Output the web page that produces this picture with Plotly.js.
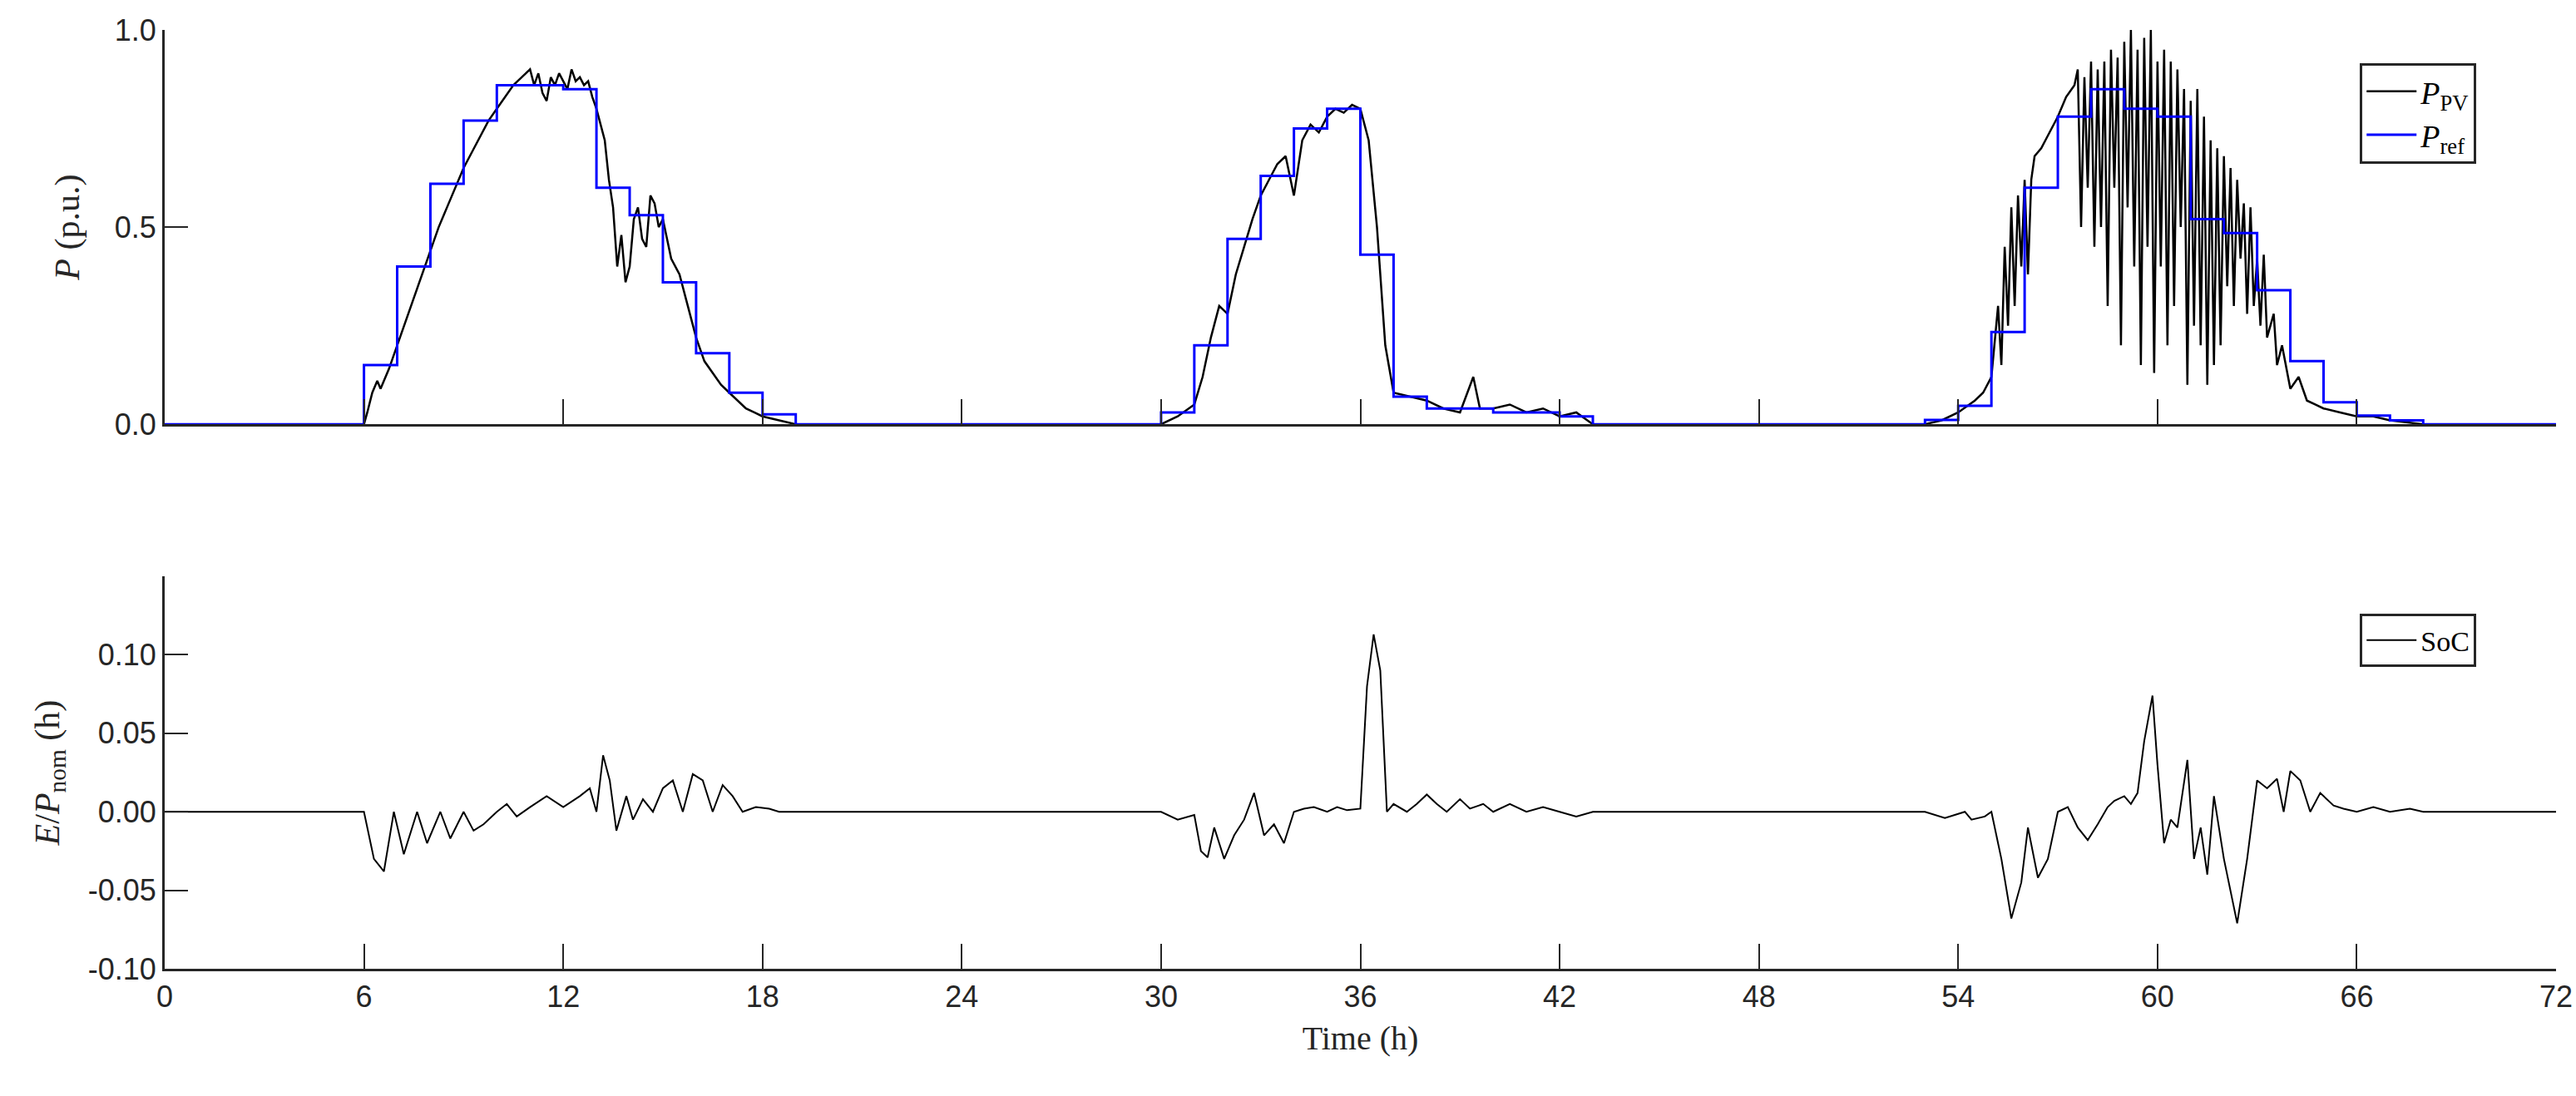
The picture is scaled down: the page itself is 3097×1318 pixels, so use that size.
<!DOCTYPE html>
<html><head><meta charset="utf-8">
<script src="https://cdn.plot.ly/plotly-3.0.1.min.js"></script>
<style>body{margin:0;background:#fff}</style></head>
<body><div id="g" style="width:3097px;height:1318px"></div>
<script>
const pvT = [0,6,6.1,6.25,6.4,6.5,6.6,6.75,7,7.25,7.5,7.75,8,8.25,8.5,8.75,9,9.25,9.5,9.75,10,10.25,10.5,10.75,11,11.125,11.25,11.375,11.5,11.625,11.75,11.875,12,12.125,12.25,12.375,12.5,12.625,12.75,12.875,13,13.125,13.25,13.375,13.5,13.625,13.75,13.875,14,14.125,14.25,14.375,14.5,14.625,14.75,14.875,15,15.25,15.5,15.75,16,16.25,16.5,16.75,17,17.25,17.5,17.75,18,18.5,19,
30,30.5,31,31.25,31.5,31.75,32,32.25,32.5,32.75,33,33.25,33.5,33.75,34,34.25,34.5,34.75,35,35.25,35.5,35.75,36,36.25,36.5,36.75,37,37.5,38,38.5,39,39.4,39.6,40,40.5,41,41.5,42,42.5,43,
53,53.5,54,54.5,54.75,55,55.2,55.3,55.4,55.5,55.6,55.7,55.8,55.9,56,56.1,56.2,56.3,56.5,56.75,57,57.25,57.5,57.6,57.7,57.8,57.9,58,58.1,58.2,58.3,58.4,58.5,58.6,58.7,58.8,58.9,59,59.1,59.2,59.3,59.4,59.5,59.6,59.7,59.8,59.9,60,60.1,60.2,60.3,60.4,60.5,60.6,60.7,60.8,60.9,61,61.1,61.2,61.3,61.4,61.5,61.6,61.7,61.8,61.9,62,62.1,62.2,62.3,62.4,62.5,62.6,62.7,62.8,62.9,63,63.1,63.2,63.3,63.5,63.6,63.75,64,64.25,64.5,64.75,65,65.5,66,66.5,67,68,72];
const pvV = [0,0,0.03,0.08,0.11,0.09,0.11,0.14,0.20,0.26,0.32,0.38,0.44,0.50,0.55,0.60,0.65,0.69,0.73,0.77,0.80,0.83,0.86,0.88,0.90,0.86,0.89,0.84,0.82,0.88,0.86,0.89,0.87,0.85,0.90,0.87,0.88,0.86,0.87,0.83,0.80,0.76,0.72,0.62,0.55,0.40,0.48,0.36,0.40,0.52,0.55,0.47,0.45,0.58,0.56,0.50,0.52,0.42,0.38,0.30,0.22,0.16,0.13,0.10,0.08,0.06,0.04,0.03,0.02,0.01,0,
0,0.02,0.05,0.12,0.22,0.30,0.28,0.38,0.45,0.52,0.58,0.62,0.66,0.68,0.58,0.72,0.76,0.74,0.78,0.80,0.79,0.81,0.80,0.72,0.50,0.20,0.08,0.07,0.06,0.04,0.03,0.12,0.04,0.04,0.05,0.03,0.04,0.02,0.03,0,
0,0.01,0.03,0.06,0.08,0.12,0.30,0.15,0.45,0.25,0.55,0.30,0.58,0.40,0.62,0.38,0.62,0.68,0.70,0.74,0.78,0.83,0.86,0.90,0.50,0.88,0.60,0.92,0.45,0.90,0.50,0.92,0.30,0.95,0.60,0.93,0.20,0.97,0.55,1.00,0.40,0.95,0.15,0.98,0.45,1.00,0.13,0.92,0.40,0.95,0.20,0.92,0.30,0.90,0.50,0.85,0.10,0.82,0.25,0.85,0.20,0.78,0.10,0.72,0.15,0.70,0.20,0.68,0.35,0.65,0.30,0.62,0.42,0.56,0.28,0.55,0.30,0.42,0.25,0.43,0.22,0.28,0.15,0.20,0.09,0.12,0.06,0.05,0.04,0.03,0.02,0.02,0.01,0,0];
const refT = [0,6,7,8,9,10,11,12,13,14,15,16,17,18,19,30,31,32,33,34,35,36,37,38,39,40,41,42,43,53,54,55,56,57,58,59,60,61,62,63,64,65,66,67,68,72];
const refV = [0,0.15,0.40,0.61,0.77,0.86,0.86,0.85,0.60,0.53,0.36,0.18,0.08,0.025,0,0.03,0.20,0.47,0.63,0.75,0.80,0.43,0.07,0.04,0.04,0.03,0.03,0.02,0,0.011,0.047,0.234,0.60,0.78,0.85,0.80,0.78,0.52,0.485,0.34,0.16,0.056,0.022,0.01,0,0];
const socT = [0,6,6.3,6.6,6.9,7.2,7.6,7.9,8.3,8.6,9,9.3,9.6,10,10.3,10.6,11,11.5,12,12.5,12.8,13,13.2,13.4,13.6,13.9,14.1,14.4,14.7,15,15.3,15.6,15.9,16.2,16.5,16.8,17.1,17.4,17.8,18.2,18.5,30,30.5,31,31.2,31.4,31.6,31.9,32.2,32.5,32.8,33.1,33.4,33.7,34,34.3,34.6,35,35.3,35.6,36,36.2,36.4,36.6,36.8,37,37.4,37.7,38,38.3,38.6,39,39.3,39.7,40,40.5,41,41.5,42,42.5,43,53,53.6,53.9,54.2,54.4,54.8,55,55.3,55.6,55.9,56.1,56.4,56.7,57,57.3,57.6,57.9,58.2,58.5,58.7,59,59.2,59.4,59.6,59.85,60,60.2,60.4,60.6,60.9,61.1,61.3,61.5,61.7,62,62.4,62.7,63,63.3,63.6,63.8,64,64.3,64.6,64.9,65.3,65.6,66,66.5,67,67.6,68,72];
const socV = [0,0,-0.03,-0.038,0,-0.027,0,-0.02,0,-0.017,0,-0.012,-0.008,0,0.005,-0.003,0.003,0.01,0.003,0.01,0.015,0,0.036,0.02,-0.012,0.01,-0.005,0.008,0,0.015,0.02,0,0.024,0.02,0,0.017,0.01,0,0.003,0.002,0,0,-0.005,-0.002,-0.025,-0.029,-0.01,-0.03,-0.015,-0.005,0.012,-0.015,-0.008,-0.02,0,0.002,0.003,0,0.003,0.001,0.002,0.08,0.113,0.09,0,0.005,0,0.005,0.011,0.005,0,0.008,0.002,0.005,0,0.005,0,0.003,0,-0.003,0,0,-0.004,-0.002,0,-0.005,-0.003,0,-0.03,-0.068,-0.045,-0.01,-0.042,-0.03,0,0.003,-0.01,-0.018,-0.008,0.003,0.007,0.01,0.005,0.012,0.045,0.074,0.03,-0.02,-0.005,-0.01,0.033,-0.03,-0.01,-0.04,0.01,-0.03,-0.071,-0.03,0.02,0.015,0.021,0,0.026,0.02,0,0.012,0.004,0.002,0,0.003,0,0.002,0,0];
const xTicks = [0,6,12,18,24,30,36,42,48,54,60,66,72];

const axc = '#262626';
const tf = {family:'Liberation Sans, Arial', size:36, color:axc};
const serif = 'Liberation Serif, Times New Roman';
const base = {showgrid:false, zeroline:false, showline:true, linecolor:axc, linewidth:3, ticks:'inside', ticklen:30, tickwidth:2, tickcolor:axc, tickfont:tf};
const data = [
 {x:pvT, y:pvV, type:'scatter', mode:'lines', line:{color:'#000', width:2.5}, name:'<i>P</i><sub>PV</sub>', xaxis:'x', yaxis:'y', legend:'legend'},
 {x:refT, y:refV, type:'scatter', mode:'lines', line:{color:'#0000ff', width:3, shape:'hv'}, name:'<i>P</i><sub>ref</sub>', xaxis:'x', yaxis:'y', legend:'legend'},
 {x:socT, y:socV, type:'scatter', mode:'lines', line:{color:'#000', width:2}, name:'SoC', xaxis:'x2', yaxis:'y2', legend:'legend2'}
];
const layout = {
 width:3097, height:1318, paper_bgcolor:'#fff', plot_bgcolor:'#fff',
 margin:{l:198, r:24, t:36, b:153},
 xaxis:Object.assign({}, base, {domain:[0,1], anchor:'y', range:[0,72], tickvals:xTicks, showticklabels:false}),
 yaxis:Object.assign({}, base, {domain:[0.58,1], anchor:'x', range:[0,1], tickvals:[0,0.5,1], ticktext:['0.0','0.5','1.0'], ticklen:28,
   title:{text:'<i>P</i> (p.u.)', font:{family:serif, size:42, color:axc}, standoff:30}}),
 xaxis2:Object.assign({}, base, {domain:[0,1], anchor:'y2', range:[0,72], tickvals:xTicks,
   title:{text:'Time (h)', font:{family:serif, size:40, color:axc}, standoff:16}}),
 yaxis2:Object.assign({}, base, {domain:[0,0.418], anchor:'x2', range:[-0.1,0.15], tickvals:[-0.1,-0.05,0,0.05,0.1], ticktext:['-0.10','-0.05','0.00','0.05','0.10'], ticklen:28,
   title:{text:'<i>E</i>/<i>P</i><sub>nom</sub> (h)', font:{family:serif, size:42, color:axc}, standoff:22}}),
 legend:{x:0.918, y:0.965, xanchor:'left', yanchor:'top', bgcolor:'#fff', bordercolor:axc, borderwidth:3, font:{family:serif, size:38, color:'#000'}, tracegroupgap:0, itemwidth:60},
 legend2:{x:0.918, y:0.378, xanchor:'left', yanchor:'top', bgcolor:'#fff', bordercolor:axc, borderwidth:3, font:{family:serif, size:34, color:'#000'}, itemwidth:60},
 showlegend:true
};
Plotly.newPlot('g', data, layout, {displayModeBar:false, staticPlot:true});
</script></body></html>
